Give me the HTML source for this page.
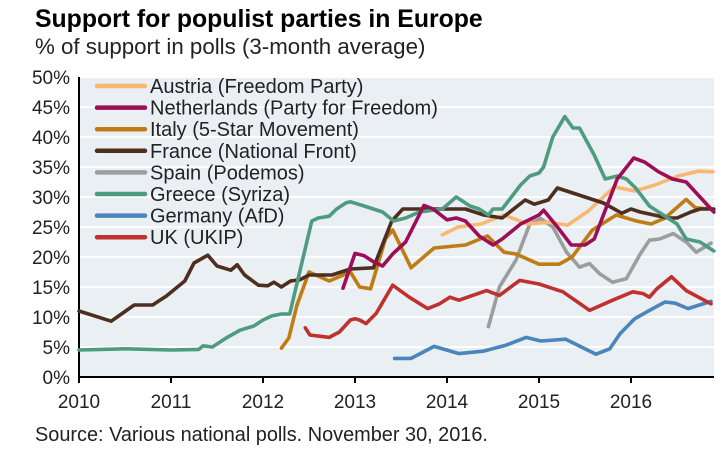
<!DOCTYPE html>
<html><head><meta charset="utf-8"><style>
body{margin:0;background:#fff;font-family:"Liberation Sans",Arial,sans-serif}
svg text{font-family:"Liberation Sans",Arial,sans-serif}
</style></head><body>
<svg id="c" width="727" height="471">
<text x="35" y="27" font-size="24.8" font-weight="bold" fill="#000">Support for populist parties in Europe</text>
<text x="35" y="54" font-size="22.3" fill="#222">% of support in polls (3-month average)</text>
<text x="35" y="441" font-size="19.9" fill="#222">Source: Various national polls. November 30, 2016.</text>
</svg>
<script>
const yTicks=[0,5,10,15,20,25,30,35,40,45,50];
const xTicks=[2010,2011,2012,2013,2014,2015,2016];
const seriesNames=["Austria (Freedom Party)","Netherlands (Party for Freedom)","Italy (5-Star Movement)","France (National Front)","Spain (Podemos)","Greece (Syriza)","Germany (AfD)","UK (UKIP)"];
const seriesColors=["#f9b872","#9c0f57","#c07c14","#4d2e1f","#9d9d9d","#4f9b7f","#4a86bb","#c0302f"];
const austriaT=[2013.95,2014.12,2014.37,2014.62,2014.88,2015.1,2015.31,2015.53,2015.82,2016.04,2016.26,2016.51,2016.73,2016.89];
const austriaV=[23.7,25,25.5,27,25.5,25.8,25.3,27.6,31.7,31,32,33.5,34.3,34.2];
const netherlandsT=[2012.87,2013.0,2013.1,2013.2,2013.3,2013.41,2013.55,2013.75,2013.85,2014.0,2014.1,2014.2,2014.35,2014.5,2014.6,2014.8,2015.0,2015.05,2015.2,2015.35,2015.5,2015.6,2015.85,2016.03,2016.15,2016.3,2016.45,2016.6,2016.75,2016.9];
const netherlandsV=[14.8,20.6,20.2,19.2,18.5,20.5,22.5,28.6,28,26.2,26.5,26,23.5,22,23,25.5,27,27.8,25,22,22,23,33,36.5,35.8,34.2,33,32.5,30,27.5];
const italyT=[2012.2,2012.28,2012.37,2012.5,2012.72,2012.95,2013.05,2013.17,2013.33,2013.41,2013.61,2013.86,2014.2,2014.44,2014.62,2014.75,2015.0,2015.22,2015.36,2015.58,2015.84,2016.06,2016.22,2016.37,2016.6,2016.7,2016.87];
const italyV=[4.8,6.5,12,17.5,16,17.5,15,14.7,23,24.5,18.2,21.5,22,23.5,20.8,20.5,18.8,18.8,20,24.5,27,26,25.5,26.5,29.6,28.2,28];
const franceT=[2010,2010.35,2010.6,2010.8,2010.95,2011.15,2011.25,2011.4,2011.5,2011.65,2011.72,2011.8,2011.95,2012.05,2012.12,2012.2,2012.3,2012.4,2012.5,2012.75,2012.95,2013.2,2013.4,2013.52,2014.2,2014.4,2014.6,2014.85,2014.95,2015.1,2015.2,2015.5,2015.7,2015.9,2016.0,2016.1,2016.4,2016.5,2016.65,2016.75,2016.9];
const franceV=[11,9.3,12,12,13.5,16,19,20.3,18.5,17.8,18.7,17,15.3,15.2,15.8,15,16,16.2,17,17,18,18.2,26,28,28,27,26.5,29.5,28.8,29.5,31.5,30,29,27.3,28,27.5,26.5,26.5,27.5,28,28];
const spainT=[2014.45,2014.57,2014.75,2014.9,2015.02,2015.15,2015.3,2015.44,2015.55,2015.66,2015.8,2015.95,2016.1,2016.2,2016.31,2016.46,2016.6,2016.71,2016.87];
const spainV=[8.4,15,19.5,25.5,26.4,25,20.8,18.3,18.9,17.2,15.8,16.4,20.5,22.8,23,23.9,22.5,20.8,22.3];
const greeceT=[2010,2010.5,2011,2011.3,2011.35,2011.45,2011.6,2011.75,2011.9,2012,2012.1,2012.2,2012.29,2012.53,2012.6,2012.72,2012.8,2012.9,2012.95,2013.1,2013.3,2013.42,2013.55,2013.7,2013.95,2014.1,2014.25,2014.35,2014.45,2014.5,2014.6,2014.7,2014.8,2014.9,2015.0,2015.05,2015.15,2015.28,2015.37,2015.44,2015.6,2015.72,2015.85,2015.95,2016.05,2016.2,2016.35,2016.5,2016.6,2016.75,2016.9];
const greeceV=[4.5,4.7,4.5,4.6,5.2,5,6.5,7.8,8.5,9.5,10.2,10.5,10.5,26,26.5,26.8,28,29,29.2,28.5,27.5,26,26.5,27.5,28,30,28.5,28,27,28,28,30,32,33.5,34,35,40,43.4,41.5,41.5,37,33,33.5,33,31.5,28.5,27,25.5,23,22.5,21];
const germanyT=[2013.43,2013.61,2013.86,2014.13,2014.39,2014.64,2014.86,2015.02,2015.29,2015.62,2015.77,2015.88,2016.04,2016.2,2016.37,2016.48,2016.62,2016.87];
const germanyV=[3.1,3.1,5.1,3.9,4.3,5.3,6.6,6,6.3,3.8,4.7,7.2,9.7,11.1,12.5,12.3,11.4,12.6];
const ukT=[2012.46,2012.51,2012.67,2012.72,2012.83,2012.95,2013.0,2013.05,2013.12,2013.23,2013.41,2013.59,2013.79,2013.92,2014.03,2014.13,2014.43,2014.57,2014.79,2015.0,2015.26,2015.55,2015.8,2016.02,2016.13,2016.2,2016.28,2016.44,2016.6,2016.87];
const ukV=[8.2,7,6.7,6.6,7.5,9.5,9.7,9.5,8.9,10.6,15.3,13.3,11.4,12.2,13.3,12.8,14.4,13.6,16.1,15.5,14.2,11.1,12.8,14.2,13.9,13.3,14.7,16.7,14.4,12.2];
const allT=[austriaT,netherlandsT,italyT,franceT,spainT,greeceT,germanyT,ukT];
const allV=[austriaV,netherlandsV,italyV,franceV,spainV,greeceV,germanyV,ukV];
const drawOrder=[4,0,2,6,7,3,5,1];

const NS="http://www.w3.org/2000/svg",svg=document.getElementById('c');
const L=79,R=714,T=77,B=377;
const xs=t=>L+(t-2010)*92;
const ys=v=>B-(v/50)*(B-T);
function el(tag,attrs,parent){const e=document.createElementNS(NS,tag);for(const k in attrs)e.setAttribute(k,attrs[k]);(parent||svg).appendChild(e);return e;}
const bg=el('rect',{x:L,y:T,width:R-L,height:B-T,fill:"#e9eff3"});


yTicks.forEach(v=>{
  if(v>0){const g=el('line',{x1:L,x2:R,y1:ys(v),y2:ys(v),stroke:"#fff","stroke-width":2});
  
  }
  const t=el('text',{x:70,y:ys(v)+7,"text-anchor":"end","font-size":19,fill:"#222"});t.textContent=v+"%";
  
  
});
const ax=el('line',{x1:L,x2:L,y1:T,y2:B,stroke:"#000","stroke-width":2});


const bx=el('line',{x1:L,x2:R,y1:B,y2:B,stroke:"#000","stroke-width":2});


xTicks.forEach(y=>{
  el('line',{x1:xs(y),x2:xs(y),y1:B,y2:B+6,stroke:"#000","stroke-width":2});
  const t=el('text',{x:xs(y),y:408,"text-anchor":"middle","font-size":19,fill:"#222"});t.textContent=y;
  
  
});
drawOrder.forEach(i=>{
  const d=allT[i].map((t,j)=>(j?"L":"M")+xs(t).toFixed(1)+","+ys(allV[i][j]).toFixed(1)).join("");
  const p=el('path',{d:d,fill:"none",stroke:seriesColors[i],"stroke-width":3.6,"stroke-linejoin":"round","stroke-linecap":"round"});
  
  
});
seriesNames.forEach((n,i)=>{
  const y=86+i*21.6;
  const g=el('g',{});
  
  
  el('line',{x1:97,x2:145,y1:y,y2:y,stroke:seriesColors[i],"stroke-width":4.5,"stroke-linecap":"round"},g);
  const t=el('text',{x:150,y:y+7,"font-size":20,fill:"#222"},g);t.textContent=n;
});
</script>
</body></html>
